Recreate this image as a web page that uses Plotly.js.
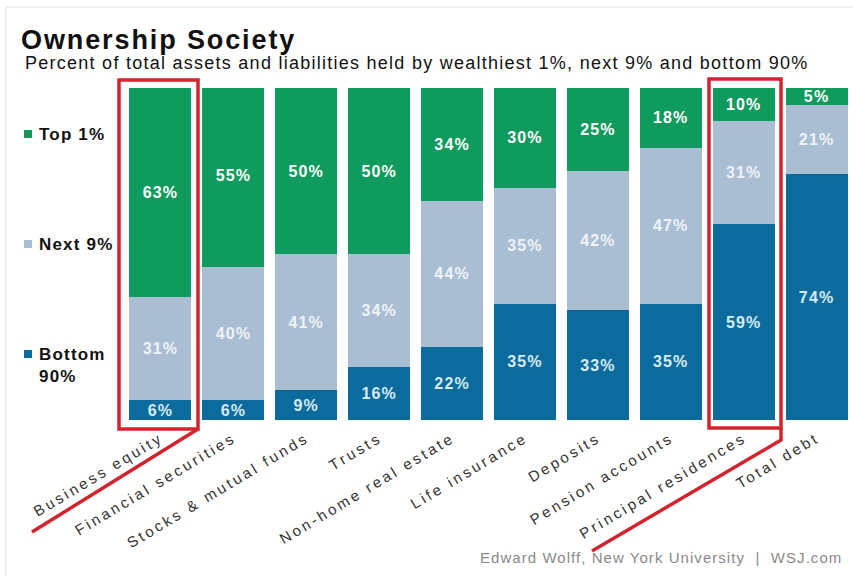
<!DOCTYPE html>
<html>
<head>
<meta charset="utf-8">
<script src="https://cdn.plot.ly/plotly-3.0.1.min.js"></script>
<style>
  html, body { margin: 0; padding: 0; background: #fff; }
  #chart { width: 853px; height: 576px; }
  svg text { letter-spacing: 0.07em; }
  svg .xtick text { letter-spacing: 0.19em; }
</style>
</head>
<body>
<div id="chart"></div>
<script>
const categories = ["Business equity", "Financial securities", "Stocks & mutual funds", "Trusts",
  "Non-home real estate", "Life insurance", "Deposits", "Pension accounts",
  "Principal residences", "Total debt"];
const bottom90 = [6, 6, 9, 16, 22, 35, 33, 35, 59, 74];
const next9 = [31, 40, 41, 34, 44, 35, 42, 47, 31, 21];
const top1 = [63, 55, 50, 50, 34, 30, 25, 18, 10, 5];
const seriesNames = ["Bottom 90%", "Next 9%", "Top 1%"];

const W = 853, H = 576, L = 124, R = 0, T = 88, B = 156;
const pw = W - L - R, ph = H - T - B;
const px = x => (x - L) / pw;
const py = y => (H - B - y) / ph;

const FONT = "Liberation Sans, Arial, Helvetica, sans-serif";
const cGreen = "#0f9a5e", cGray = "#a9bdd3", cBlue = "#0b6b9c";
const pct = a => a.map(v => v + "%");

function barTrace(name, vals, color, txtColor) {
  return {
    type: "bar", name: name, x: categories, y: vals,
    marker: { color: color, line: { width: 0 } },
    text: pct(vals), textposition: "inside", insidetextanchor: "middle",
    textfont: { family: FONT, size: 16, color: txtColor, weight: "bold" },
    hoverinfo: "x+y+name", showlegend: false
  };
}

const data = [
  barTrace(seriesNames[0], bottom90, cBlue, "#d6ecf7"),
  barTrace(seriesNames[1], next9, cGray, "#eef3f8"),
  barTrace(seriesNames[2], top1, cGreen, "#ffffff")
];

const red = "#d3232e";
const layout = {
  width: W, height: H,
  margin: { l: L, r: R, t: T, b: B, pad: 0 },
  paper_bgcolor: "#ffffff", plot_bgcolor: "#ffffff",
  barmode: "stack", bargap: 0.15,
  uniformtext: { minsize: 14, mode: "show" },
  font: { family: FONT, color: "#222" },
  title: {
    text: "<b>Ownership Society</b>",
    x: 21 / W, xanchor: "left", xref: "container",
    y: 1 - 40 / H, yanchor: "middle", yref: "container",
    font: { family: FONT, size: 27, color: "#111" }
  },
  xaxis: {
    type: "category", tickangle: -31, showgrid: false, zeroline: false,
    showline: false, ticks: "", ticklabelstandoff: 6,
    tickfont: { family: FONT, size: 15, color: "#333" }
  },
  yaxis: { range: [0, 100], visible: false, fixedrange: true },
  annotations: [
    { text: "Percent of total assets and liabilities held by wealthiest 1%, next 9% and bottom 90%",
      xref: "paper", yref: "paper", x: px(23), y: py(63), xanchor: "left", yanchor: "middle",
      showarrow: false, font: { family: FONT, size: 18, color: "#111" } },
    { text: "<b>Top 1%</b>", xref: "paper", yref: "paper", x: px(37), y: py(134),
      xanchor: "left", yanchor: "middle", showarrow: false,
      font: { family: FONT, size: 17, color: "#111" } },
    { text: "<b>Next 9%</b>", xref: "paper", yref: "paper", x: px(37), y: py(244),
      xanchor: "left", yanchor: "middle", showarrow: false,
      font: { family: FONT, size: 17, color: "#111" } },
    { text: "<b>Bottom<br>90%</b>", xref: "paper", yref: "paper", x: px(37), y: py(365),
      xanchor: "left", yanchor: "middle", align: "left", showarrow: false,
      font: { family: FONT, size: 17, color: "#111" } },
    { text: "Edward Wolff, New York University  |  WSJ.com", xref: "paper", yref: "paper",
      x: px(844), y: py(557), xanchor: "right", yanchor: "middle", showarrow: false,
      font: { family: FONT, size: 15, color: "#8a8a8a" } }
  ],
  shapes: [
    { type: "line", xref: "paper", yref: "paper", x0: px(6), x1: px(6), y0: py(7), y1: py(576),
      line: { color: "#e2e2e2", width: 1 } },
    { type: "line", xref: "paper", yref: "paper", x0: px(6), x1: px(853), y0: py(7), y1: py(7),
      line: { color: "#e2e2e2", width: 1 } },
    { type: "rect", xref: "paper", yref: "paper", x0: px(24), x1: px(32), y0: py(130), y1: py(138),
      fillcolor: cGreen, line: { width: 0 } },
    { type: "rect", xref: "paper", yref: "paper", x0: px(24), x1: px(32), y0: py(240), y1: py(248),
      fillcolor: cGray, line: { width: 0 } },
    { type: "rect", xref: "paper", yref: "paper", x0: px(24), x1: px(32), y0: py(350), y1: py(358),
      fillcolor: cBlue, line: { width: 0 } },
    { type: "rect", xref: "paper", yref: "paper", x0: px(119), x1: px(198), y0: py(429), y1: py(80),
      line: { color: red, width: 3.5 }, fillcolor: "rgba(0,0,0,0)" },
    { type: "path", xref: "paper", yref: "paper",
      path: `M ${px(198)},${py(429)} L ${px(32)},${py(532)}`,
      line: { color: red, width: 3.5 } },
    { type: "rect", xref: "paper", yref: "paper", x0: px(709), x1: px(781), y0: py(428), y1: py(79),
      line: { color: red, width: 3.5 }, fillcolor: "rgba(0,0,0,0)" },
    { type: "path", xref: "paper", yref: "paper",
      path: `M ${px(781)},${py(428)} L ${px(781)},${py(440)} L ${px(592)},${py(551)}`,
      line: { color: red, width: 3.5 } }
  ]
};

Plotly.newPlot("chart", data, layout, { displayModeBar: false, staticPlot: true });
</script>
</body>
</html>
